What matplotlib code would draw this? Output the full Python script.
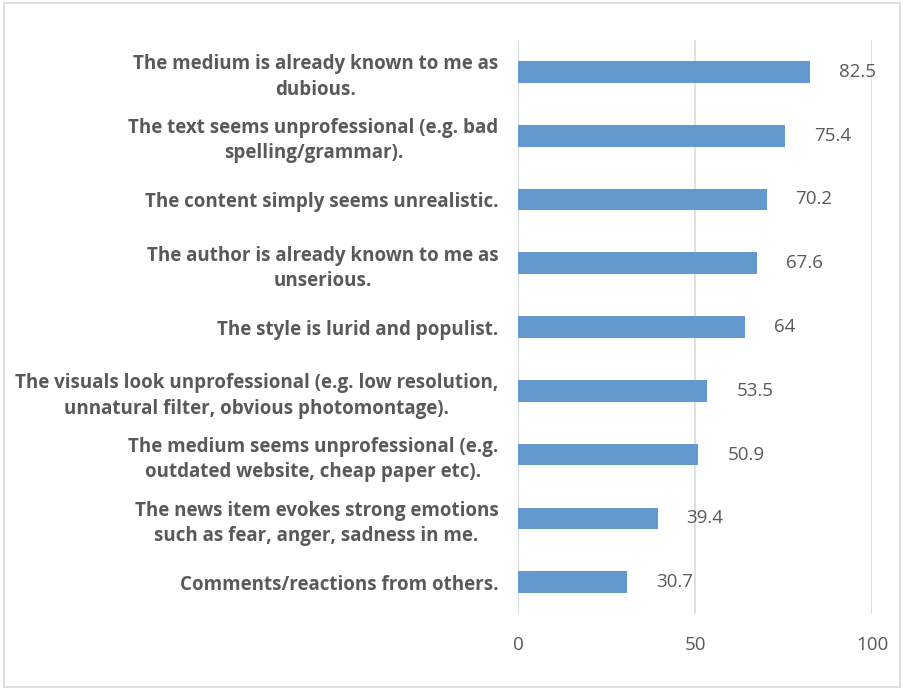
import matplotlib.pyplot as plt
from matplotlib.patches import Rectangle

labels = [
    "Comments/reactions from others.",
    "The news item evokes strong emotions\nsuch as fear, anger, sadness in me.",
    "The medium seems unprofessional (e.g.\noutdated website, cheap paper etc).",
    "The visuals look unprofessional (e.g. low resolution,\nunnatural filter, obvious photomontage).",
    "The style is lurid and populist.",
    "The author is already known to me as\nunserious.",
    "The content simply seems unrealistic.",
    "The text seems unprofessional (e.g. bad\nspelling/grammar).",
    "The medium is already known to me as\ndubious.",
]
values = [30.7, 39.4, 50.9, 53.5, 64, 67.6, 70.2, 75.4, 82.5]
value_text = ["30.7", "39.4", "50.9", "53.5", "64", "67.6", "70.2", "75.4", "82.5"]
x_ticks = [0, 50, 100]

plt.rcParams["font.family"] = ["Open Sans", "DejaVu Sans"]
text_color = "#595959"

fig = plt.figure(figsize=(9.04, 6.90), dpi=100)
ax = fig.add_axes([0.573, 0.110, 0.3917, 0.832])

pos = list(range(len(values)))
ax.barh(pos, values, height=0.34, color="#6399CD", zorder=3)

for p, v, t in zip(pos, values, value_text):
    ax.text(v + 8.2, p, t, va="center", ha="left", fontsize=13.5, color=text_color)

ax.set_xlim(0, 100)
ax.set_ylim(-0.5, len(values) - 0.5)
ax.set_xticks(x_ticks)
ax.set_xticklabels([str(t) for t in x_ticks], fontsize=13.5, color=text_color)
ax.set_yticks(pos)
ax.set_yticklabels(labels, fontsize=13.5, fontweight="bold", color=text_color,
                   multialignment="center", linespacing=1.35)
ax.tick_params(axis="both", length=0)
ax.tick_params(axis="y", pad=14)
ax.tick_params(axis="x", pad=16)
ax.grid(axis="x", color="#D9D9D9", linewidth=1.2, zorder=0)
for s in ax.spines.values():
    s.set_visible(False)

# thin frame around the whole chart
fig.patches.append(Rectangle((0.004, 0.005), 0.992, 0.99, transform=fig.transFigure,
                             fill=False, edgecolor="#D9D9D9", linewidth=1.2))

plt.savefig("out.png", dpi=100)
plt.close()
